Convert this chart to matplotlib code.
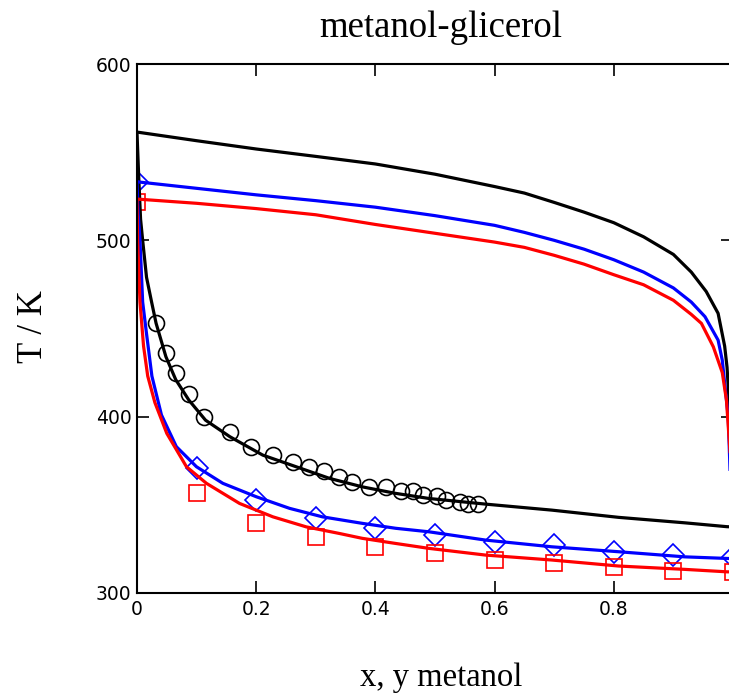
import matplotlib
matplotlib.use("Agg")
import matplotlib.pyplot as plt

# curvas calculadas (punto de burbuja / rocio)
x_bub_k = [0, 0.003, 0.006, 0.0095, 0.016, 0.0245, 0.032, 0.0485, 0.065, 0.087, 0.115,
           0.156, 0.211, 0.267, 0.323, 0.378, 0.434, 0.49, 0.585, 0.696, 0.808, 0.919, 0.99, 1.0]
T_bub_k = [561, 535, 512, 500, 479, 465, 453, 434, 421, 409.4, 398, 388.6, 378.2, 371.6,
           365, 360.2, 356.5, 353.6, 350.4, 347, 342.9, 339.8, 337.6, 337.5]
x_dew_k = [0, 0.1, 0.2, 0.3, 0.4, 0.5, 0.6, 0.65, 0.7, 0.75, 0.8, 0.85, 0.9, 0.93, 0.955,
           0.975, 0.986, 0.99, 0.995, 1.0]
T_dew_k = [561.4, 556.5, 551.8, 547.6, 543.3, 537.5, 530.5, 526.8, 521.5, 516, 510, 502,
           492, 482, 471, 458.6, 440, 428, 400, 337.5]

x_bub_b = [0, 0.002, 0.005, 0.0095, 0.016, 0.025, 0.041, 0.066, 0.0998, 0.144, 0.2, 0.256,
           0.311, 0.378, 0.434, 0.49, 0.585, 0.696, 0.808, 0.919, 0.99, 1.0]
T_bub_b = [533, 515, 500, 465, 447, 423, 401, 383, 371.6, 362.2, 354.6, 348, 343.2, 339.5,
           336.7, 334.7, 330, 326.2, 323.4, 320.5, 319.6, 319.5]
x_dew_b = [0, 0.1, 0.2, 0.3, 0.4, 0.5, 0.6, 0.65, 0.7, 0.75, 0.8, 0.85, 0.9, 0.93, 0.953,
           0.975, 0.982, 0.986, 0.992, 1.0]
T_dew_b = [533.2, 529.5, 525.8, 522.5, 518.8, 514, 508.5, 504.5, 500, 495, 489, 482, 473,
           465, 456.7, 443.4, 432, 419, 400, 319.5]

x_bub_r = [0, 0.001, 0.005, 0.011, 0.018, 0.03, 0.05, 0.083, 0.1165, 0.172, 0.228, 0.284,
           0.339, 0.378, 0.434, 0.49, 0.585, 0.696, 0.808, 0.919, 0.99, 1.0]
T_bub_r = [523, 500, 465, 440, 423, 408, 390.5, 371.6, 362.2, 350.8, 343.2, 337.5, 333.8,
           331, 328.1, 325.3, 321.5, 318.7, 315.3, 313.4, 312, 312]
x_dew_r = [0, 0.1, 0.2, 0.3, 0.4, 0.5, 0.6, 0.65, 0.7, 0.75, 0.8, 0.85, 0.9, 0.93, 0.947,
           0.967, 0.982, 0.989, 0.995, 1.0]
T_dew_r = [523.4, 521, 518, 514.5, 509, 504, 499, 496, 491.5, 486.5, 480.5, 474.8, 466,
           458, 452.9, 439.6, 425, 409.4, 380, 312]

# datos experimentales
x_exp_k = [0.032, 0.0485, 0.065, 0.0875, 0.1125, 0.1555, 0.192, 0.228, 0.2615, 0.289, 0.314,
           0.339, 0.36, 0.39, 0.418, 0.443, 0.463, 0.48, 0.504, 0.518, 0.542, 0.556, 0.5715]
T_exp_k = [452.9, 435.9, 424.6, 412.8, 400.0, 391.4, 382.9, 378.2, 374.4, 371.2, 369.3,
           365.6, 362.8, 360.2, 359.9, 358.1, 357.8, 355.5, 354.9, 352.9, 351.8, 350.7, 350.4]
x_exp_b = [0, 0.1, 0.2, 0.3, 0.4, 0.5, 0.6, 0.7, 0.8, 0.9, 1.0]
T_exp_b = [533, 370.7, 352.7, 342.3, 336.7, 332.8, 329.0, 327.2, 323.4, 321.5, 320.5]
x_exp_r = [0, 0.1, 0.2, 0.3, 0.4, 0.5, 0.6, 0.7, 0.8, 0.9, 1.0]
T_exp_r = [522, 356.9, 339.8, 331.5, 326.2, 322.8, 318.7, 317.2, 314.5, 312.6, 312]

fig = plt.figure(figsize=(7.29, 6.94), dpi=100)
ax = fig.add_axes([137/729, 101/694, 596/729, 529/694])

lw = 2.3
ax.plot(x_exp_k, T_exp_k, 'o', mfc='none', mec='black', ms=11.5, mew=1.2)
ax.plot(x_exp_b, T_exp_b, 'D', mfc='none', mec='blue', ms=11, mew=1.2)
ax.plot(x_exp_r, T_exp_r, 's', mfc='none', mec='red', ms=11, mew=1.2)

ax.plot(x_bub_k, T_bub_k, color='black', lw=lw)
ax.plot(x_dew_k, T_dew_k, color='black', lw=lw)
ax.plot(x_bub_b, T_bub_b, color='blue', lw=lw)
ax.plot(x_dew_b, T_dew_b, color='blue', lw=lw)
ax.plot(x_bub_r, T_bub_r, color='red', lw=lw)
ax.plot(x_dew_r, T_dew_r, color='red', lw=lw)

ax.set_xlim(0, 1)
ax.set_ylim(300, 600)
# the "1" label falls outside the cropped picture, so it is left empty
ax.set_xticks([0, 0.2, 0.4, 0.6, 0.8, 1.0])
ax.set_xticklabels(['0', '0.2', '0.4', '0.6', '0.8', ''])
ax.set_yticks([300, 400, 500, 600])
for s in ax.spines.values():
    s.set_linewidth(1.5)
ax.tick_params(direction='in', length=8.5, width=1.2, top=True, right=True,
               labelsize=13.5, pad=5)
ax.tick_params(axis='y', pad=4)
# the end ticks are hidden by the frame in the original
for t in ax.xaxis.get_major_ticks()[::5] + ax.yaxis.get_major_ticks()[::3]:
    t.tick1line.set_visible(False)
    t.tick2line.set_visible(False)

serif = 'Liberation Serif'
fig.text(441/729, 1 - 28/694, 'metanol-glicerol', family=serif, fontsize=26.5,
         ha='center', va='center')
fig.text(441/729, 1 - 678/694, 'x, y metanol', family=serif, fontsize=23.5,
         ha='center', va='center')
fig.text(33/729, 1 - 327/694, 'T / K', family=serif, fontsize=25,
         ha='center', va='center', rotation=90)

fig.savefig('out.png', dpi=100)
